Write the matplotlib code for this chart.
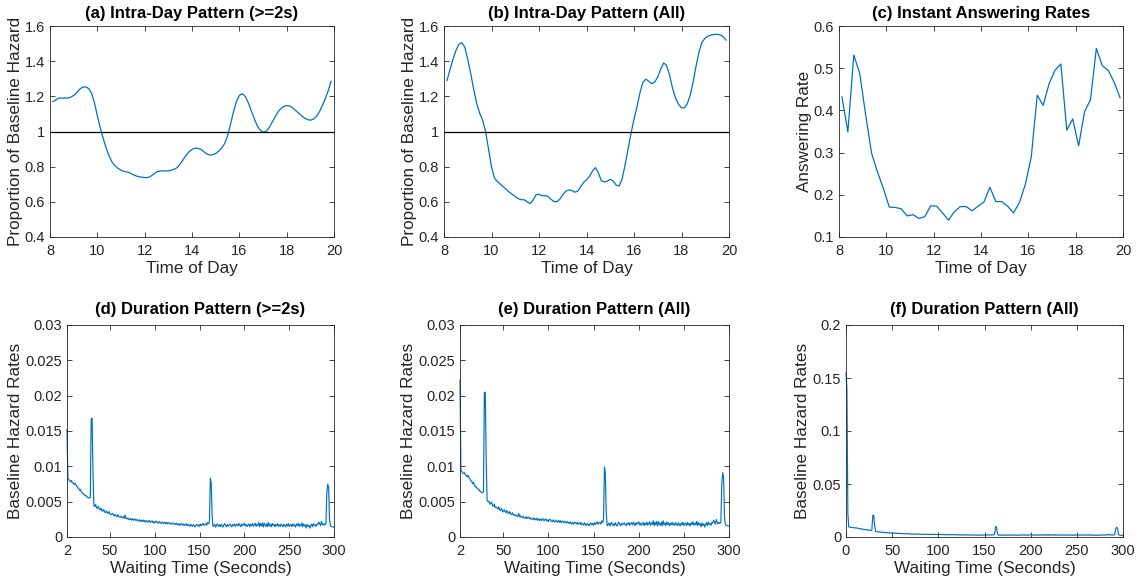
#!/usr/bin/env python3
"""Intra-day and duration patterns of baseline hazard (2x3 panel)."""
import matplotlib
matplotlib.use("Agg")
import matplotlib.pyplot as plt
import numpy as np
from matplotlib.ticker import FuncFormatter

# ---- Data ----
# panels (a), (b): hazard multiplier sampled every 1/8 hour from 8:07 to 19:52
intra_2s = [
    1.17, 1.18, 1.19, 1.19, 1.19, 1.19, 1.195, 1.205,
    1.22, 1.24, 1.252, 1.254, 1.245, 1.22, 1.165, 1.09,
    1.02, 0.96, 0.905, 0.86, 0.825, 0.805, 0.79, 0.78,
    0.773, 0.77, 0.765, 0.755, 0.748, 0.743, 0.74, 0.738,
    0.738, 0.745, 0.757, 0.77, 0.775, 0.776, 0.775, 0.776,
    0.78, 0.785, 0.795, 0.815, 0.84, 0.865, 0.885, 0.898,
    0.905, 0.905, 0.898, 0.885, 0.872, 0.866, 0.868, 0.875,
    0.888, 0.905, 0.93, 0.975, 1.04, 1.11, 1.17, 1.205,
    1.215, 1.2, 1.165, 1.12, 1.075, 1.035, 1.008, 0.997,
    1.0, 1.02, 1.05, 1.08, 1.11, 1.13, 1.143, 1.147,
    1.145, 1.135, 1.12, 1.105, 1.09, 1.077, 1.068, 1.064,
    1.07, 1.085, 1.11, 1.145, 1.185, 1.23, 1.285,
]

intra_all = [
    1.29, 1.35, 1.41, 1.46, 1.495, 1.505, 1.48, 1.41,
    1.33, 1.24, 1.16, 1.105, 1.065, 1.0, 0.9, 0.8,
    0.735, 0.715, 0.7, 0.685, 0.67, 0.655, 0.643, 0.63,
    0.618, 0.612, 0.612, 0.6, 0.59, 0.61, 0.64, 0.643,
    0.635, 0.635, 0.632, 0.615, 0.602, 0.6, 0.615, 0.64,
    0.66, 0.668, 0.665, 0.655, 0.66, 0.685, 0.71, 0.725,
    0.745, 0.775, 0.795, 0.765, 0.72, 0.713, 0.718, 0.728,
    0.718, 0.695, 0.69, 0.73, 0.81, 0.9, 0.99, 1.07,
    1.14, 1.22, 1.28, 1.298, 1.285, 1.272, 1.282, 1.31,
    1.355, 1.39, 1.375, 1.32, 1.245, 1.19, 1.155, 1.135,
    1.135, 1.16, 1.21, 1.29, 1.38, 1.46, 1.51, 1.532,
    1.543, 1.548, 1.552, 1.553, 1.55, 1.54, 1.52,
]

# panel (c): answering rate every 1/4 hour from 8:07 to 19:52
answer_rate = [0.432, 0.349, 0.531, 0.488, 0.39, 0.299, 0.254, 0.215,
               0.171, 0.170, 0.167, 0.150, 0.153, 0.144, 0.148, 0.174,
               0.173, 0.157, 0.140, 0.160, 0.172, 0.172, 0.162, 0.173,
               0.183, 0.218, 0.184, 0.184, 0.173, 0.157, 0.182, 0.225,
               0.290, 0.436, 0.412, 0.463, 0.495, 0.510, 0.353, 0.380,
               0.316, 0.397, 0.425, 0.547, 0.506, 0.495, 0.467, 0.430]

# baseline hazard per second of waiting, in units of 1e-5, from 2 s to 300 s
dur_2s = [
    1520, 830, 810, 800, 780, 800, 770, 760, 745, 765,
    730, 725, 695, 685, 660, 675, 635, 630, 610, 605,
    585, 590, 565, 565, 550, 555, 560, 1670, 1680, 900,
    450, 430, 460, 415, 405, 435, 395, 385, 410, 375,
    365, 390, 355, 345, 370, 340, 335, 360, 325, 315,
    325, 335, 305, 300, 320, 295, 290, 315, 285, 280,
    295, 275, 270, 290, 265, 310, 260, 255, 270, 250,
    245, 262, 240, 258, 235, 250, 255, 230, 248, 235,
    225, 245, 222, 238, 220, 240, 215, 235, 212, 230,
    210, 228, 232, 205, 222, 228, 202, 220, 198, 218,
    225, 200, 195, 218, 200, 192, 214, 198, 190, 212,
    190, 206, 185, 204, 198, 182, 200, 190, 180, 198,
    186, 175, 196, 176, 170, 190, 165, 182, 188, 168,
    182, 162, 180, 186, 158, 178, 168, 152, 182, 162,
    150, 176, 160, 142, 170, 178, 155, 172, 152, 184,
    160, 175, 192, 165, 178, 188, 168, 205, 188, 218,
    830, 760, 300, 148, 162, 178, 140, 172, 185, 150,
    168, 145, 182, 158, 140, 172, 190, 158, 145, 176,
    155, 170, 180, 158, 145, 176, 162, 185, 150, 172,
    182, 155, 190, 168, 145, 185, 162, 178, 195, 155,
    175, 150, 170, 185, 145, 178, 160, 190, 152, 172,
    195, 150, 178, 162, 205, 145, 190, 158, 200, 140,
    195, 168, 150, 190, 145, 205, 155, 178, 145, 192,
    162, 182, 145, 176, 158, 190, 152, 172, 150, 185,
    162, 145, 182, 160, 142, 178, 158, 190, 148, 170,
    178, 145, 186, 158, 172, 142, 182, 162, 195, 150,
    175, 158, 200, 145, 185, 155, 172, 130, 178, 150,
    165, 125, 160, 182, 145, 190, 162, 172, 150, 185,
    175, 212, 190, 162, 222, 180, 168, 188, 172, 192,
    620, 750, 700, 250, 160, 150, 145, 140, 140,
]

dur_all = [
    2220, 950, 930, 905, 900, 910, 875, 870, 850, 875,
    835, 825, 795, 785, 755, 775, 725, 725, 695, 695,
    675, 675, 645, 645, 625, 625, 640, 2040, 2050, 1100,
    520, 500, 505, 465, 475, 495, 445, 435, 465, 415,
    425, 415, 395, 425, 385, 375, 405, 365, 355, 385,
    360, 345, 375, 340, 335, 360, 325, 320, 345, 310,
    318, 300, 312, 296, 290, 335, 285, 302, 280, 276,
    292, 270, 266, 288, 260, 278, 282, 256, 272, 252,
    250, 270, 244, 262, 242, 265, 238, 258, 234, 255,
    232, 254, 258, 228, 248, 255, 225, 245, 220, 244,
    250, 225, 215, 242, 220, 212, 240, 218, 210, 236,
    208, 232, 202, 226, 222, 200, 222, 206, 198, 220,
    202, 192, 218, 190, 185, 210, 180, 202, 208, 184,
    204, 178, 200, 206, 172, 196, 184, 168, 202, 178,
    162, 194, 178, 158, 190, 198, 170, 192, 168, 204,
    178, 194, 215, 180, 198, 208, 184, 228, 206, 244,
    990, 900, 350, 160, 180, 198, 155, 190, 205, 165,
    185, 160, 202, 172, 155, 192, 210, 172, 160, 195,
    170, 190, 200, 172, 160, 195, 178, 205, 165, 192,
    202, 170, 210, 186, 160, 204, 178, 198, 216, 170,
    194, 165, 190, 205, 160, 198, 174, 210, 168, 192,
    216, 165, 198, 178, 230, 160, 210, 172, 222, 155,
    216, 186, 165, 210, 160, 230, 172, 198, 160, 214,
    178, 202, 160, 194, 172, 210, 170, 192, 165, 205,
    178, 160, 202, 175, 156, 198, 172, 210, 162, 190,
    198, 160, 206, 172, 192, 156, 202, 178, 216, 165,
    194, 172, 222, 160, 205, 170, 192, 145, 198, 165,
    186, 140, 180, 202, 160, 210, 178, 192, 165, 205,
    196, 238, 212, 180, 248, 200, 186, 208, 192, 214,
    760, 910, 850, 290, 175, 165, 160, 155, 155,
]

# hazard in the first two seconds (only in panel f), same units
dur_first = [15500, 14000]

C_LINE = "#0072BD"
C_AX = "#262626"

plt.rcParams.update({
    "font.family": ["Liberation Sans", "DejaVu Sans"],
    "font.size": 10,
    "axes.edgecolor": C_AX,
    "axes.linewidth": 0.6,
    "xtick.color": C_AX,
    "ytick.color": C_AX,
    "xtick.direction": "in",
    "ytick.direction": "in",
    "xtick.top": True,
    "ytick.right": True,
    "xtick.major.size": 3.5,
    "ytick.major.size": 3.5,
    "xtick.major.width": 0.6,
    "ytick.major.width": 0.6,
    "xtick.major.pad": 5,
    "ytick.major.pad": 3.5,
    "xtick.labelsize": 10.5,
    "ytick.labelsize": 10.5,
})

fmt = FuncFormatter(lambda v, p: f"{v:g}")

fig = plt.figure(figsize=(11.38, 5.85), dpi=100)
W, H = 1138, 585


def add_ax(left, right, top, bottom):
    return fig.add_axes([left / W, 1 - bottom / H, (right - left) / W, (bottom - top) / H])


def style(ax, title, xlabel, ylabel, tpad):
    ax.set_title(title, fontsize=12, fontweight="bold", pad=tpad)
    ax.set_xlabel(xlabel, fontsize=12.3, color=C_AX, labelpad=2)
    ax.set_ylabel(ylabel, fontsize=12.3, color=C_AX, labelpad=1.5)
    ax.xaxis.set_major_formatter(fmt)
    ax.yaxis.set_major_formatter(fmt)


hours8 = np.arange(8.125, 19.9, 0.125)
hours4 = np.arange(8.125, 19.9, 0.25)

panels = [
    (add_ax(50, 334, 26, 237), hours8, intra_2s, "(a) Intra-Day Pattern (>=2s)",
     "Proportion of Baseline Hazard", (0.4, 1.6), np.arange(0.4, 1.61, 0.2), True),
    (add_ax(444, 729, 26, 237), hours8, intra_all, "(b) Intra-Day Pattern (All)",
     "Proportion of Baseline Hazard", (0.4, 1.6), np.arange(0.4, 1.61, 0.2), True),
    (add_ax(839, 1123, 26, 237), hours4, answer_rate, "(c) Instant Answering Rates",
     "Answering Rate", (0.1, 0.6), np.arange(0.1, 0.61, 0.1), False),
]
for ax, x, y, t, yl, ylim, yt, ref in panels:
    ax.plot(x, y, color=C_LINE, lw=0.9)
    if ref:
        ax.axhline(1, color="black", lw=0.9)
    ax.set_xlim(8, 20)
    ax.set_ylim(*ylim)
    ax.set_xticks(range(8, 21, 2))
    ax.set_yticks(np.round(yt, 2))
    style(ax, t, "Time of Day", yl, 5.5)

# ---- Duration panels ----
d2 = np.array(dur_2s) * 1e-5
da = np.array(dur_all) * 1e-5
x2 = np.arange(2, 2 + len(d2))
xa = np.arange(2, 2 + len(da))
df = np.concatenate([np.array(dur_first) * 1e-5, da])
xf = np.arange(0, len(df))

dur_ticks = [2, 50, 100, 150, 200, 250, 300]
haz_ticks = np.round(np.arange(0, 0.0301, 0.005), 3)

ax = add_ax(67, 334, 325, 537)
ax.plot(x2, d2, color=C_LINE, lw=0.85, clip_on=False)
ax.set_xlim(2, 300)
ax.set_ylim(0, 0.03)
ax.set_xticks(dur_ticks)
ax.set_yticks(haz_ticks)
style(ax, "(d) Duration Pattern (>=2s)", "Waiting Time (Seconds)", "Baseline Hazard Rates", 8)

ax = add_ax(460, 729, 325, 537)
ax.plot(xa, da, color=C_LINE, lw=0.85, clip_on=False)
ax.set_xlim(2, 300)
ax.set_ylim(0, 0.03)
ax.set_xticks(dur_ticks)
ax.set_yticks(haz_ticks)
style(ax, "(e) Duration Pattern (All)", "Waiting Time (Seconds)", "Baseline Hazard Rates", 8)

ax = add_ax(846, 1123, 325, 537)
ax.plot(xf, df, color=C_LINE, lw=0.85, clip_on=False)
ax.set_xlim(0, 300)
ax.set_ylim(0, 0.2)
ax.set_xticks(range(0, 301, 50))
ax.set_yticks(np.round(np.arange(0, 0.201, 0.05), 2))
style(ax, "(f) Duration Pattern (All)", "Waiting Time (Seconds)", "Baseline Hazard Rates", 8)

fig.savefig("out.png", dpi=100, facecolor="white")
